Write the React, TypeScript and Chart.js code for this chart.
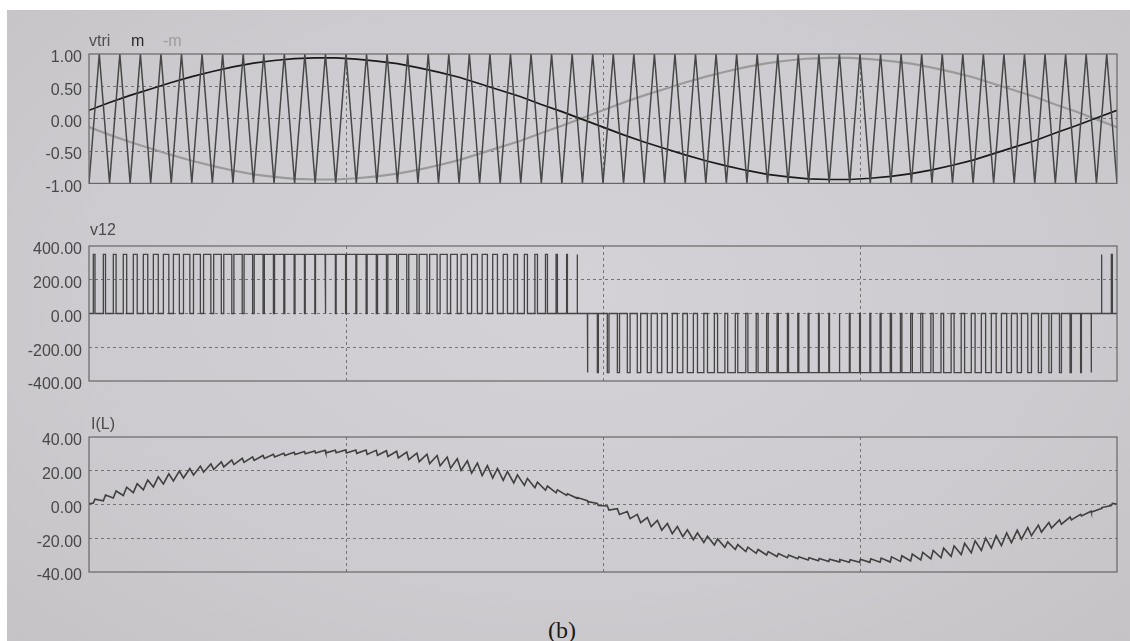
import React, { useEffect, useRef } from "react";
import { Chart, registerables } from "chart.js";

Chart.register(...registerables);

// ---------------- data ----------------
// time axis: one fundamental period, normalised 0..1, grid at quarters
const xGridTicks = [0, 0.25, 0.5, 0.75, 1];

// carrier vertices (valley / peak) at t = k/100
const vtri = [
  -1, 1, -1, 1, -1, 1, -1, 1, -1, 1, -1, 1, -1, 1, -1, 1, -1, 1, -1, 1,
  -1, 1, -1, 1, -1, 1, -1, 1, -1, 1, -1, 1, -1, 1, -1, 1, -1, 1, -1, 1,
  -1, 1, -1, 1, -1, 1, -1, 1, -1, 1, -1, 1, -1, 1, -1, 1, -1, 1, -1, 1,
  -1, 1, -1, 1, -1, 1, -1, 1, -1, 1, -1, 1, -1, 1, -1, 1, -1, 1, -1, 1,
  -1, 1, -1, 1, -1, 1, -1, 1, -1, 1, -1, 1, -1, 1, -1, 1, -1, 1, -1, 1,
  -1,
];

// modulating signal m at t = k/50
const mRef = [
  0.13, 0.25, 0.36, 0.46, 0.56, 0.65, 0.73, 0.8, 0.86, 0.9,
  0.93, 0.94, 0.94, 0.92, 0.89, 0.85, 0.79, 0.72, 0.64, 0.54,
  0.44, 0.34, 0.22, 0.11, -0.01, -0.13, -0.25, -0.36, -0.46, -0.56,
  -0.65, -0.73, -0.8, -0.86, -0.9, -0.93, -0.94, -0.94, -0.92, -0.89,
  -0.85, -0.79, -0.72, -0.64, -0.54, -0.44, -0.34, -0.22, -0.11, 0.01,
  0.13,
];

// -m at t = k/50
const mNeg = [
  -0.13, -0.25, -0.36, -0.46, -0.56, -0.65, -0.73, -0.8, -0.86, -0.9,
  -0.93, -0.94, -0.94, -0.92, -0.89, -0.85, -0.79, -0.72, -0.64, -0.54,
  -0.44, -0.34, -0.22, -0.11, 0.01, 0.13, 0.25, 0.36, 0.46, 0.56,
  0.65, 0.73, 0.8, 0.86, 0.9, 0.93, 0.94, 0.94, 0.92, 0.89,
  0.85, 0.79, 0.72, 0.64, 0.54, 0.44, 0.34, 0.22, 0.11, -0.01,
  -0.13,
];

// v12: one pulse per switching slot (100 slots); signed pulse width (fraction of slot)
const v12Duty = [
  0.16, 0.21, 0.27, 0.33, 0.38, 0.43, 0.48, 0.53, 0.58, 0.62,
  0.67, 0.71, 0.74, 0.78, 0.81, 0.83, 0.86, 0.88, 0.9, 0.91,
  0.92, 0.93, 0.93, 0.93, 0.92, 0.92, 0.91, 0.89, 0.87, 0.85,
  0.82, 0.79, 0.76, 0.73, 0.69, 0.65, 0.61, 0.56, 0.51, 0.46,
  0.41, 0.36, 0.3, 0.25, 0.19, 0.13, 0.08, 0.02, -0.04, -0.1,
  -0.16, -0.21, -0.27, -0.33, -0.38, -0.43, -0.48, -0.53, -0.58, -0.62,
  -0.67, -0.71, -0.74, -0.78, -0.81, -0.83, -0.86, -0.88, -0.9, -0.91,
  -0.92, -0.93, -0.93, -0.93, -0.92, -0.92, -0.91, -0.89, -0.87, -0.85,
  -0.82, -0.79, -0.76, -0.73, -0.69, -0.65, -0.61, -0.56, -0.51, -0.46,
  -0.41, -0.36, -0.3, -0.25, -0.19, -0.13, -0.08, -0.02, 0.04, 0.1,
];
const v12Level = 350;

// I(L): mean value in each switching slot and its peak-to-peak ripple
const iLMid = [
  2.0, 3.9, 5.9, 7.8, 9.7, 11.6, 13.4, 15.2, 16.9, 18.5,
  20.1, 21.6, 23.0, 24.3, 25.5, 26.6, 27.6, 28.5, 29.3, 30.0,
  30.5, 30.9, 31.3, 31.4, 31.5, 31.4, 31.3, 30.9, 30.5, 30.0,
  29.3, 28.5, 27.6, 26.6, 25.5, 24.3, 23.0, 21.6, 20.1, 18.5,
  16.9, 15.2, 13.4, 11.6, 9.7, 7.8, 5.9, 3.9, 2.0, 0.0,
  -2.1, -4.2, -6.3, -8.3, -10.4, -12.3, -14.3, -16.1, -17.9, -19.7,
  -21.4, -22.9, -24.4, -25.8, -27.1, -28.3, -29.4, -30.3, -31.1, -31.9,
  -32.4, -32.9, -33.2, -33.4, -33.5, -33.4, -33.2, -32.9, -32.4, -31.9,
  -31.1, -30.3, -29.4, -28.3, -27.1, -25.8, -24.4, -22.9, -21.4, -19.7,
  -17.9, -16.1, -14.3, -12.3, -10.4, -8.3, -6.3, -4.2, -2.1, 0.0,
];
const iLRipple = [
  2.4, 3.4, 4.2, 4.9, 5.4, 5.8, 6.0, 6.0, 5.9, 5.6,
  5.3, 4.9, 4.5, 4.1, 3.7, 3.3, 2.9, 2.5, 2.2, 2.0,
  1.8, 1.7, 1.6, 1.6, 1.6, 1.8, 2.0, 2.4, 2.7, 3.1,
  3.5, 3.9, 4.4, 4.8, 5.2, 5.5, 5.7, 5.9, 5.9, 5.7,
  5.3, 4.8, 4.1, 3.3, 2.5, 1.7, 1.0, 0.5, 0.6, 1.3,
  2.4, 3.4, 4.2, 4.9, 5.4, 5.8, 6.0, 6.0, 5.9, 5.6,
  5.3, 4.9, 4.5, 4.1, 3.7, 3.3, 2.9, 2.5, 2.2, 2.0,
  1.8, 1.7, 1.6, 1.6, 1.6, 1.8, 2.0, 2.4, 2.7, 3.1,
  3.5, 3.9, 4.4, 4.8, 5.2, 5.5, 5.7, 5.9, 5.9, 5.7,
  5.3, 4.8, 4.1, 3.3, 2.5, 1.7, 1.0, 0.5, 0.6, 1.3,
];
const iLEnds = [0.4, 0.2];

const seriesNames = ["vtri", "m", "-m", "v12", "I(L)"];

// ---------------- build point lists ----------------
const toPts = (arr: number[]) =>
  arr.map((y, k) => ({ x: k / (arr.length - 1), y }));

const nSlots = v12Duty.length;
const slotEdges = v12Duty.map((d, j) => {
  const c = (j + 0.5) / nSlots;
  const h = Math.abs(d) / nSlots / 2;
  return { a: c - h, b: c + h, s: d < 0 ? -1 : 1 };
});

const v12Pts: { x: number; y: number }[] = [{ x: 0, y: 0 }];
slotEdges.forEach(({ a, b, s }) => {
  v12Pts.push({ x: a, y: 0 }, { x: a, y: s * v12Level }, { x: b, y: s * v12Level }, { x: b, y: 0 });
});
v12Pts.push({ x: 1, y: 0 });

const iLPts: { x: number; y: number }[] = [{ x: 0, y: iLEnds[0] }];
slotEdges.forEach(({ a, b, s }, j) => {
  iLPts.push({ x: a, y: iLMid[j] - (s * iLRipple[j]) / 2 }, { x: b, y: iLMid[j] + (s * iLRipple[j]) / 2 });
});
iLPts.push({ x: 1, y: iLEnds[1] });

// ---------------- chart helpers ----------------
const FONT = '"Liberation Sans", Arial, sans-serif';

const boxPlugin = {
  id: "box",
  afterDatasetsDraw(chart: any) {
    const { ctx, chartArea: a } = chart;
    ctx.save();
    ctx.strokeStyle = "#676767";
    ctx.lineWidth = 1.2;
    ctx.setLineDash([]);
    ctx.strokeRect(a.left, a.top, a.right - a.left, a.bottom - a.top);
    ctx.restore();
  },
};

function makeConfig(
  datasets: any[],
  min: number,
  max: number,
  step: number,
  padTop: number,
  xAxisH: number
): any {
  const edgeHidden = (lo: number, hi: number) => (c: any) =>
    c.tick && (Math.abs(c.tick.value - lo) < 1e-9 || Math.abs(c.tick.value - hi) < 1e-9)
      ? "rgba(0,0,0,0)"
      : "#747474";
  return {
    type: "line",
    data: { datasets },
    plugins: [boxPlugin],
    options: {
      animation: false,
      responsive: false,
      devicePixelRatio: 1,
      parsing: true,
      layout: { padding: { top: padTop, left: 0, right: 13, bottom: 0 } },
      plugins: { legend: { display: false }, tooltip: { enabled: false } },
      elements: { point: { radius: 0 }, line: { tension: 0 } },
      scales: {
        x: {
          type: "linear",
          min: xGridTicks[0],
          max: xGridTicks[xGridTicks.length - 1],
          afterBuildTicks: (s: any) => {
            s.ticks = xGridTicks.map((v) => ({ value: v }));
          },
          ticks: { display: false },
          grid: { drawTicks: false, color: edgeHidden(0, 1), lineWidth: 1 },
          border: { display: false, dash: [3, 3] },
          afterFit: (s: any) => {
            s.height = xAxisH;
          },
        },
        y: {
          type: "linear",
          min,
          max,
          ticks: {
            stepSize: step,
            autoSkip: false,
            padding: 7,
            labelOffset: 4,
            color: "#484848",
            font: { family: FONT, size: 16 },
            callback: (v: any) => Number(v).toFixed(2),
          },
          grid: { drawTicks: false, color: edgeHidden(min, max), lineWidth: 1 },
          border: { display: false, dash: [3, 3] },
          afterFit: (s: any) => {
            s.width = 89;
          },
        },
      },
    },
  };
}

function Panel({ top, config }: { top: number; config: any }) {
  const ref = useRef<HTMLCanvasElement | null>(null);
  useEffect(() => {
    if (!ref.current) return;
    const chart = new Chart(ref.current, config);
    return () => chart.destroy();
  }, [config]);
  return (
    <canvas
      ref={ref}
      width={1130}
      height={200}
      style={{ position: "absolute", left: 0, top, width: 1130, height: 200 }}
    />
  );
}

const cfgTop = makeConfig(
  [
    { data: toPts(vtri), borderColor: "#474747", borderWidth: 1.5 },
    { data: toPts(mRef), borderColor: "#1a1a1a", borderWidth: 1.7 },
    { data: toPts(mNeg), borderColor: "#9a9a9a", borderWidth: 2.2 },
  ],
  -1,
  1,
  0.5,
  54,
  11
);
const cfgMid = makeConfig(
  [{ data: v12Pts, borderColor: "#444444", borderWidth: 1.3 }],
  -400,
  400,
  200,
  46,
  19
);
const cfgBot = makeConfig(
  [{ data: iLPts, borderColor: "#404040", borderWidth: 1.6 }],
  -40,
  40,
  20,
  37,
  28
);

const labelStyle = (left: number, top: number, color: string): React.CSSProperties => ({
  position: "absolute",
  left,
  top,
  fontFamily: FONT,
  fontSize: 16,
  lineHeight: "16px",
  color,
  whiteSpace: "nowrap",
});

export default function App() {
  return (
    <div
      style={{
        position: "fixed",
        left: 0,
        top: 0,
        width: 1130,
        height: 641,
        background: "#ffffff",
        overflow: "hidden",
      }}
    >
      <div
        style={{
          position: "absolute",
          left: 7,
          top: 10,
          right: 0,
          bottom: 0,
          background: "radial-gradient(ellipse at 50% 45%, #d4d2d6 0%, #cdcbcf 60%, #c6c3c6 100%)",
        }}
      />
      <Panel top={0} config={cfgTop} />
      <Panel top={200} config={cfgMid} />
      <Panel top={400} config={cfgBot} />
      <span style={labelStyle(89, 33, "#4f4f4f")}>{seriesNames[0]}</span>
      <span style={labelStyle(131, 33, "#2a2a2a")}>{seriesNames[1]}</span>
      <span style={labelStyle(163, 33, "#9c9c9c")}>{seriesNames[2]}</span>
      <span style={labelStyle(90, 222, "#4a4a4a")}>{seriesNames[3]}</span>
      <span style={labelStyle(91, 416, "#4a4a4a")}>{seriesNames[4]}</span>
      <span
        style={{
          position: "absolute",
          left: 548,
          top: 618,
          fontFamily: '"Liberation Serif", "Times New Roman", serif',
          fontSize: 24,
          lineHeight: "24px",
          color: "#1a1a1a",
        }}
      >
        (b)
      </span>
    </div>
  );
}
